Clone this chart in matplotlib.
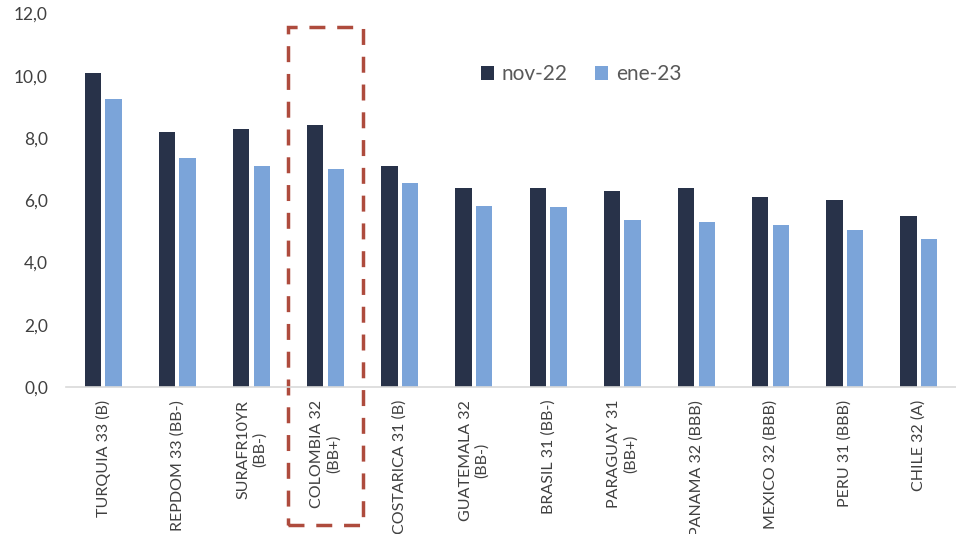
import numpy as np
import matplotlib.pyplot as plt
from matplotlib.patches import Rectangle

plt.rcParams['font.family'] = ['Lato', 'DejaVu Sans']

categories = ["TURQUIA 33 (B)", "REPDOM 33 (BB-)", "SURAFR10YR\n(BB-)", "COLOMBIA 32\n(BB+)",
              "COSTARICA 31 (B)", "GUATEMALA 32\n(BB-)", "BRASIL 31 (BB-)", "PARAGUAY 31\n(BB+)",
              "PANAMA 32 (BBB)", "MEXICO 32 (BBB)", "PERU 31 (BBB)", "CHILE 32 (A)"]
nov_22 = [10.1, 8.2, 8.3, 8.4, 7.1, 6.4, 6.4, 6.3, 6.4, 6.1, 6.0, 5.5]
ene_23 = [9.25, 7.35, 7.1, 7.0, 6.55, 5.8, 5.78, 5.35, 5.3, 5.2, 5.05, 4.75]
yticks = [0, 2, 4, 6, 8, 10, 12]
highlight = 3  # Colombia

dark = "#283249"
light = "#7BA4D9"
txt = "#404040"

fig = plt.figure(figsize=(9.56, 5.34), dpi=100)
ax = fig.add_axes([0.069, 0.275, 0.931, 0.7])

x = np.arange(len(categories))
w = 0.22
off = 0.14
ax.bar(x - off, nov_22, w, color=dark, label="nov-22")
ax.bar(x + off, ene_23, w, color=light, label="ene-23")

ax.set_xlim(-0.5, len(categories) - 0.5)
ax.set_ylim(0, 12)
ax.set_yticks(yticks)
ax.set_yticklabels([f"{v:.1f}".replace(".", ",") for v in yticks], fontsize=12.5, color=txt)
ax.set_xticks(x)
ax.set_xticklabels(categories, rotation=90, fontsize=11.5, color=txt, multialignment="center")
ax.tick_params(axis="y", length=0, pad=13)
ax.tick_params(axis="x", length=0, pad=9)

for s in ["top", "right", "left"]:
    ax.spines[s].set_visible(False)
ax.spines["bottom"].set_color("#D9D9D9")
ax.spines["bottom"].set_linewidth(1.2)

# dashed box around the highlighted bond, running down over its label
box = Rectangle((highlight - 0.5, -4.43), 1.0, 11.55 + 4.43, fill=False,
                edgecolor="#AE4B3D", linestyle=(0, (4.6, 3.4)), linewidth=2.5, clip_on=False)
ax.add_patch(box)

leg = ax.legend(loc="center", bbox_to_anchor=(0.608, 0.861), bbox_transform=fig.transFigure,
                ncol=2, frameon=False, fontsize=15, handlelength=0.62, handleheight=0.62,
                handletextpad=0.4, columnspacing=1.3)
for t in leg.get_texts():
    t.set_color("#595959")

fig.savefig("out.png", dpi=100)
